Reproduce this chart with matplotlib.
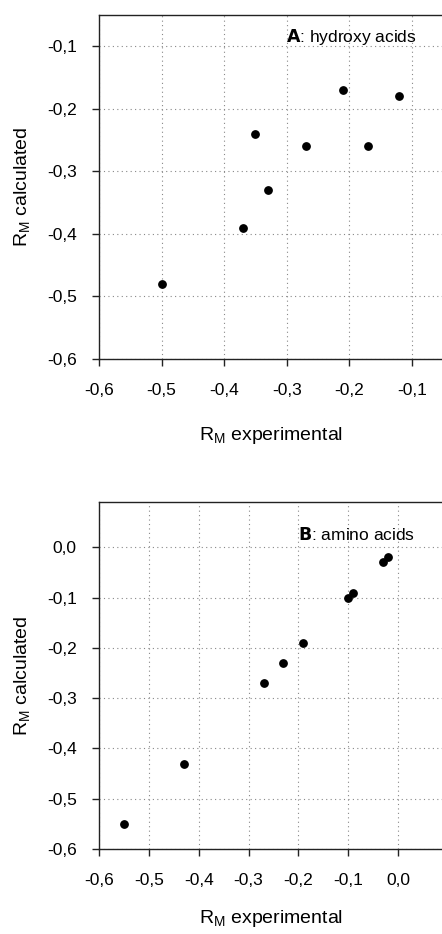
import matplotlib
matplotlib.use("Agg")
import matplotlib.pyplot as plt
from matplotlib.ticker import FuncFormatter

plt.rcParams['font.family'] = ['Liberation Sans Narrow', 'Liberation Sans', 'DejaVu Sans']
plt.rcParams['mathtext.default'] = 'regular'

# Panel A: hydroxy acids
hydroxy_exp = [-0.50, -0.37, -0.35, -0.33, -0.27, -0.21, -0.17, -0.12]
hydroxy_calc = [-0.48, -0.39, -0.24, -0.33, -0.26, -0.17, -0.26, -0.18]
# Panel B: amino acids
amino_exp = [-0.55, -0.43, -0.27, -0.23, -0.19, -0.10, -0.09, -0.03, -0.02]
amino_calc = [-0.55, -0.43, -0.27, -0.23, -0.19, -0.10, -0.09, -0.03, -0.02]

xticks_A = [-0.6, -0.5, -0.4, -0.3, -0.2, -0.1]
yticks_A = [-0.6, -0.5, -0.4, -0.3, -0.2, -0.1]
xticks_B = [-0.6, -0.5, -0.4, -0.3, -0.2, -0.1, 0.0]
yticks_B = [-0.6, -0.5, -0.4, -0.3, -0.2, -0.1, 0.0]

def fmt(v, pos=None):
    s = f"{v:.1f}".replace('.', ',')
    if s == "-0,0":
        s = "0,0"
    return s

W, H = 442, 934
fig = plt.figure(figsize=(W / 100, H / 100), dpi=100)

def make_ax(px_left, px_top, px_bottom, px_right):
    return fig.add_axes([px_left / W, 1 - px_bottom / H,
                         (px_right - px_left) / W, (px_bottom - px_top) / H])

def style(ax, xt, yt, xlim, ylim, xlabelpad):
    ax.set_xlim(*xlim)
    ax.set_ylim(*ylim)
    ax.set_xticks(xt)
    ax.set_yticks(yt)
    ax.xaxis.set_major_formatter(FuncFormatter(fmt))
    ax.yaxis.set_major_formatter(FuncFormatter(fmt))
    ax.grid(True, color='#888888', linestyle=(0, (1, 3)), linewidth=0.8)
    ax.set_axisbelow(True)
    for s in ['left', 'bottom', 'top']:
        ax.spines[s].set_color('#222222')
        ax.spines[s].set_linewidth(1.0)
    ax.spines['right'].set_visible(False)
    ax.tick_params(axis='both', direction='out', length=5, width=1,
                   labelsize=12.5, color='#222222')
    ax.tick_params(axis='x', pad=12)
    ax.tick_params(axis='y', pad=11)
    ax.set_xlabel(r"R$_M$ experimental", fontsize=14, labelpad=xlabelpad)
    ax.set_ylabel(r"R$_M$ calculated", fontsize=14, labelpad=11)

axA = make_ax(99, 15, 359, 442)
axA.scatter(hydroxy_exp, hydroxy_calc, s=28, color='black', zorder=3)
style(axA, xticks_A, yticks_A, (-0.6, -0.052), (-0.6, -0.05), 20)
axA.text(0.545, 0.935, r"$\mathbf{A}$: hydroxy acids", transform=axA.transAxes,
         fontsize=12.5, ha='left', va='center')

axB = make_ax(99, 502, 849, 442)
axB.scatter(amino_exp, amino_calc, s=28, color='black', zorder=3)
style(axB, xticks_B, yticks_B, (-0.6, 0.088), (-0.6, 0.09), 15)
axB.text(0.58, 0.905, r"$\mathbf{B}$: amino acids", transform=axB.transAxes,
         fontsize=12.5, ha='left', va='center')

fig.savefig("out.png", dpi=100)
